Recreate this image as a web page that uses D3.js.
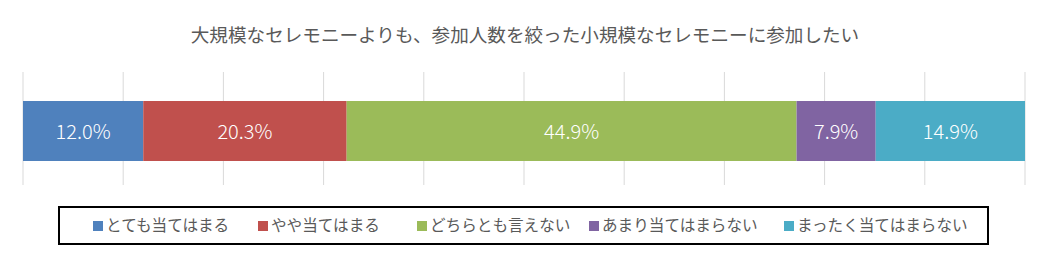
<!DOCTYPE html>
<html>
<head>
<meta charset="utf-8">
<script src="https://cdn.jsdelivr.net/npm/d3@7"></script>
<style>
  body { margin: 0; background: #fff; }
  svg { display: block; font-family: "Noto Sans CJK JP", "Noto Sans", sans-serif; }
</style>
</head>
<body>
<svg id="chart" width="1048" height="257"></svg>
<script>
const title = "大規模なセレモニーよりも、参加人数を絞った小規模なセレモニーに参加したい";
const categories = ["とても当てはまる", "やや当てはまる", "どちらとも言えない", "あまり当てはまらない", "まったく当てはまらない"];
const values = [12.0, 20.3, 44.9, 7.9, 14.9];
const colors = ["#4F81BD", "#C0504D", "#9BBB59", "#8064A2", "#4BACC6"];
const ticks = [0, 10, 20, 30, 40, 50, 60, 70, 80, 90, 100];

const width = 1048, height = 257;
const svg = d3.select("#chart");

const x = d3.scaleLinear()
  .domain([0, 100])
  .range([23, 1025]);

// title
svg.append("text")
  .attr("x", 525)
  .attr("y", 42)
  .attr("text-anchor", "middle")
  .attr("fill", "#595959")
  .style("font-size", "18.6px")
  .text(title);

// gridlines
svg.append("g")
  .selectAll("line")
  .data(ticks)
  .join("line")
  .attr("x1", d => x(d))
  .attr("x2", d => x(d))
  .attr("y1", 72)
  .attr("y2", 185)
  .attr("stroke", "#D9D9D9")
  .attr("stroke-width", 1);

// stacked segments
let acc = 0;
const segs = values.map((v, i) => {
  const s = { start: acc, value: v, color: colors[i] };
  acc += v;
  return s;
});

svg.append("g")
  .selectAll("rect")
  .data(segs)
  .join("rect")
  .attr("x", d => x(d.start))
  .attr("y", 101)
  .attr("width", d => x(d.start + d.value) - x(d.start))
  .attr("height", 60)
  .attr("fill", d => d.color);

svg.append("g")
  .selectAll("text")
  .data(segs)
  .join("text")
  .attr("x", d => x(d.start + d.value / 2))
  .attr("y", 132)
  .attr("dy", "0.35em")
  .attr("text-anchor", "middle")
  .attr("fill", "#fff")
  .style("font-size", "20px")
  .style("font-weight", 300)
  .text(d => d.value.toFixed(1) + "%");

// legend
svg.append("rect")
  .attr("x", 59)
  .attr("y", 207)
  .attr("width", 929)
  .attr("height", 37)
  .attr("fill", "none")
  .attr("stroke", "#000")
  .attr("stroke-width", 2);

const legendX = [93, 258, 417, 589, 784];
const lg = svg.append("g")
  .selectAll("g")
  .data(categories)
  .join("g")
  .attr("transform", (d, i) => `translate(${legendX[i]}, 226)`);

lg.append("rect")
  .attr("x", 0)
  .attr("y", -5)
  .attr("width", 10)
  .attr("height", 10)
  .attr("fill", (d, i) => colors[i]);

lg.append("text")
  .attr("x", 13)
  .attr("y", 0)
  .attr("dy", "0.35em")
  .attr("fill", "#595959")
  .style("font-size", "15.6px")
  .text(d => d);
</script>
</body>
</html>
